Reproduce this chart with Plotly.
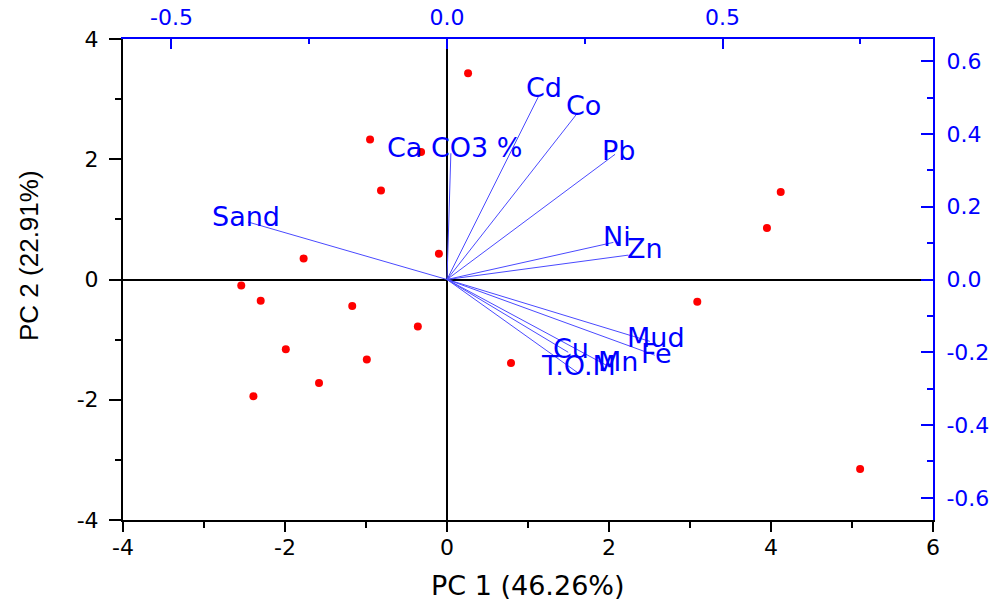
import plotly.graph_objects as go

# ---- data ----
score_pc1 = [0.26, -0.95, -0.32, -0.815, -0.10, -1.77, -2.54, -2.30, -1.17, -0.36,
             -1.99, -0.99, -1.58, -2.39, 0.79, 3.09, 3.95, 4.12, 5.10]
score_pc2 = [3.43, 2.33, 2.12, 1.48, 0.43, 0.35, -0.10, -0.355, -0.44, -0.78,
             -1.16, -1.33, -1.72, -1.94, -1.39, -0.37, 0.855, 1.455, -3.15]

var_names = ["Sand", "Ca CO3 %", "Cd", "Co", "Pb", "Ni", "Zn", "Mud", "Fe", "Cu", "Mn", "T.O.M"]
load_pc1 = [-0.361, 0.007, 0.166, 0.235, 0.305, 0.302, 0.329, 0.368, 0.377, 0.22, 0.292, 0.238]
load_pc2 = [0.158, 0.347, 0.503, 0.454, 0.344, 0.102, 0.067, -0.170, -0.208, -0.20, -0.238, -0.257]

x_ticks = [-4, -2, 0, 2, 4, 6]
x_ticktext = ["-4", "-2", "0", "2", "4", "6"]
x_minor = [-3, -1, 1, 3, 5]
y_ticks = [-4, -2, 0, 2, 4]
y_ticktext = ["-4", "-2", "0", "2", "4"]
y_minor = [-3, -1, 1, 3]
x2_ticks = [-0.5, 0.0, 0.5]
x2_ticktext = ["-0.5", "0.0", "0.5"]
x2_minor = [-0.25, 0.25, 0.75]
y2_ticks = [-0.6, -0.4, -0.2, 0.0, 0.2, 0.4, 0.6]
y2_ticktext = ["-0.6", "-0.4", "-0.2", "0.0", "0.2", "0.4", "0.6"]
y2_minor = [-0.5, -0.3, -0.1, 0.1, 0.3, 0.5]

x_title = "PC 1 (46.26%)"
y_title = "PC 2 (22.91%)"

# ---- label pixel offsets (style) ----
label_shift = [(-2, 6), (4, 6), (6, 9), (7, 9), (3, 4), (4, 6), (17, 7),
               (6, 4), (2, 2), (3, 4), (10, 5), (0, 8)]

BLUE = "#0000ff"
LINEBLUE = "#4a4aff"
TFONT = "DejaVu Sans"

fig = go.Figure()

fig.add_trace(go.Scatter(x=score_pc1, y=score_pc2, mode="markers",
                         marker=dict(color="#ff0000", size=8, line=dict(width=0)),
                         xaxis="x", yaxis="y", hoverinfo="skip"))

for i, name in enumerate(var_names):
    fig.add_trace(go.Scatter(x=[0, load_pc1[i]], y=[0, load_pc2[i]], mode="lines",
                             line=dict(color=LINEBLUE, width=1),
                             xaxis="x2", yaxis="y2", hoverinfo="skip"))
    dx, dy = label_shift[i]
    fig.add_annotation(x=load_pc1[i], y=load_pc2[i], xref="x2", yref="y2",
                       text=name, showarrow=False, xanchor="center", yanchor="middle",
                       xshift=dx, yshift=dy,
                       font=dict(family=TFONT, size=27, color=BLUE))

fig.add_annotation(x=0.5, y=-0.137, xref="paper", yref="paper", text=x_title,
                   showarrow=False, xanchor="center", yanchor="middle",
                   font=dict(family=TFONT, size=27, color="black"))
fig.add_annotation(x=-0.116, y=0.549, xref="paper", yref="paper", text=y_title,
                   showarrow=False, xanchor="center", yanchor="middle", textangle=-90,
                   font=dict(family="Liberation Sans", size=26, color="black"))

fig.update_layout(
    width=1002, height=607,
    margin=dict(l=123, r=69, t=39, b=87, autoexpand=False),
    plot_bgcolor="white", paper_bgcolor="white",
    showlegend=False,
    xaxis=dict(range=[-4, 6], tickmode="array", tickvals=x_ticks, ticktext=x_ticktext,
               ticks="outside", ticklen=10, tickwidth=2, tickcolor="black", automargin=False,
               showline=True, linecolor="black", linewidth=2, ticklabelstandoff=-3,
               zeroline=True, zerolinecolor="black", zerolinewidth=2,
               showgrid=False, tickfont=dict(family=TFONT, size=22, color="black"),
               minor=dict(tickmode="array", tickvals=x_minor, ticks="outside",
                          ticklen=6, tickwidth=2, tickcolor="black", showgrid=False)),
    yaxis=dict(range=[-4, 4], tickmode="array", tickvals=y_ticks, ticktext=y_ticktext,
               ticks="outside", ticklen=12, tickwidth=2, tickcolor="black", automargin=False,
               showline=True, linecolor="black", linewidth=2, ticklabelstandoff=6,
               zeroline=True, zerolinecolor="black", zerolinewidth=2,
               showgrid=False, tickfont=dict(family=TFONT, size=22, color="black"),
               minor=dict(tickmode="array", tickvals=y_minor, ticks="outside",
                          ticklen=6, tickwidth=2, tickcolor="black", showgrid=False)),
    xaxis2=dict(overlaying="x", side="top", range=[-0.588, 0.882], automargin=False,
                tickmode="array", tickvals=x2_ticks, ticktext=x2_ticktext,
                ticks="inside", ticklen=10, tickwidth=2, tickcolor=BLUE,
                showline=True, linecolor=BLUE, linewidth=2,
                zeroline=False, showgrid=False, ticklabelstandoff=3,
                tickfont=dict(family=TFONT, size=22, color=BLUE),
                minor=dict(tickmode="array", tickvals=x2_minor, ticks="inside",
                           ticklen=5, tickwidth=2, tickcolor=BLUE, showgrid=False)),
    yaxis2=dict(overlaying="y", side="right", range=[-0.661, 0.661], automargin=False,
                tickmode="array", tickvals=y2_ticks, ticktext=y2_ticktext,
                ticks="inside", ticklen=12, tickwidth=2, tickcolor=BLUE,
                showline=True, linecolor=BLUE, linewidth=2,
                zeroline=False, showgrid=False, ticklabelstandoff=7,
                tickfont=dict(family=TFONT, size=22, color=BLUE),
                minor=dict(tickmode="array", tickvals=y2_minor, ticks="inside",
                           ticklen=6, tickwidth=2, tickcolor=BLUE, showgrid=False)),
)

fig.write_html("out.html", config={"displayModeBar": False},
               post_script="document.body.style.margin='0';document.body.style.overflow='hidden';")
